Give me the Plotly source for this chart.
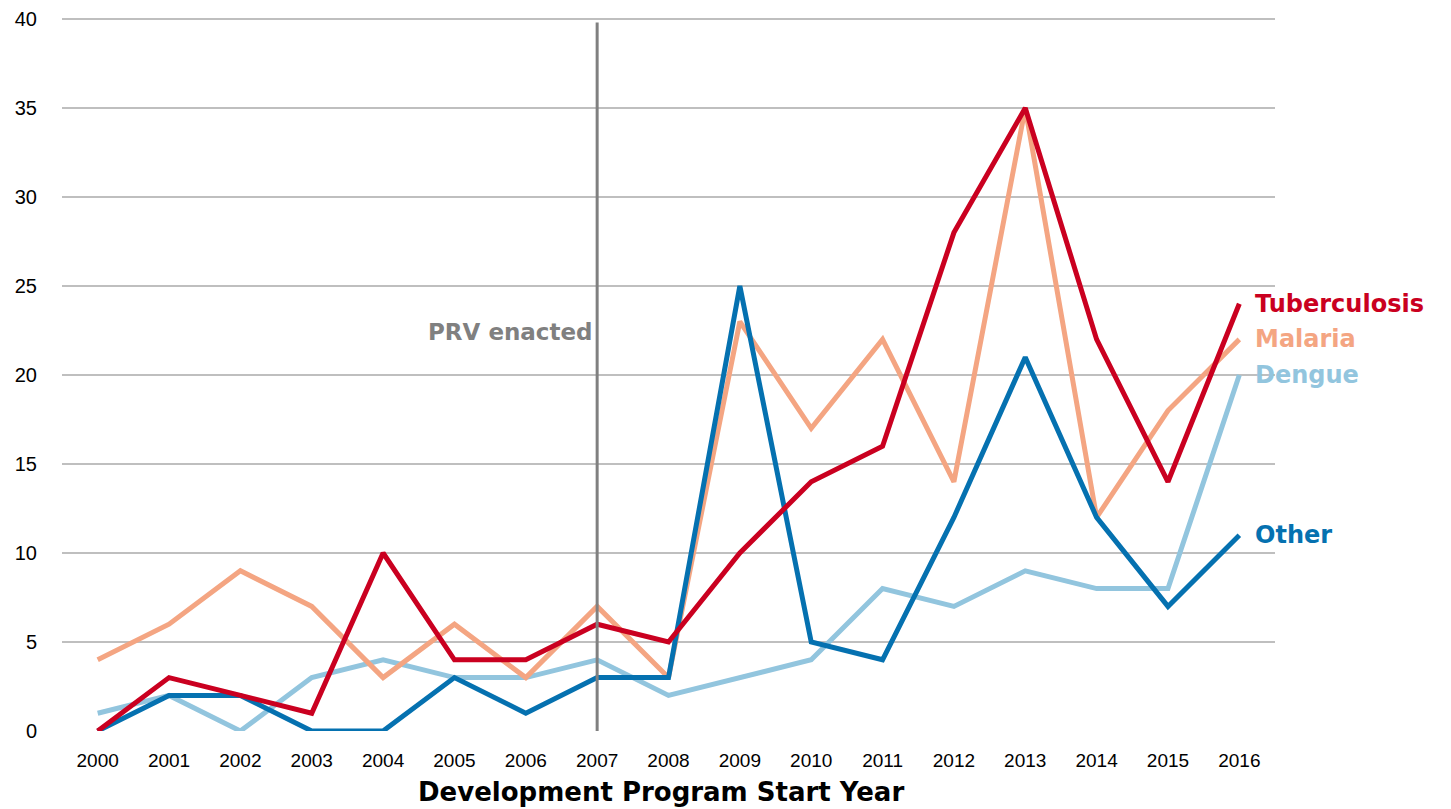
import plotly.graph_objects as go

years = list(range(2000, 2017))
tuberculosis = [0, 3, 2, 1, 10, 4, 4, 6, 5, 10, 14, 16, 28, 35, 22, 14, 24]
malaria = [4, 6, 9, 7, 3, 6, 3, 7, 3, 23, 17, 22, 14, 35, 12, 18, 22]
dengue = [1, 2, 0, 3, 4, 3, 3, 4, 2, 3, 4, 8, 7, 9, 8, 8, 20]
other = [0, 2, 2, 0, 0, 3, 1, 3, 3, 25, 5, 4, 12, 21, 12, 7, 11]

series = [
    ("Dengue", dengue, "#92C5DE"),
    ("Malaria", malaria, "#F4A582"),
    ("Other", other, "#0571B0"),
    ("Tuberculosis", tuberculosis, "#CA0020"),
]
label_y = {"Tuberculosis": 24, "Malaria": 22, "Dengue": 20, "Other": 11}

fig = go.Figure()
for name, vals, color in series:
    fig.add_trace(go.Scatter(x=years, y=vals, mode="lines", name=name,
                             line=dict(color=color, width=5)))

for name, vals, color in series:
    fig.add_annotation(x=2016, y=label_y[name], xref="x", yref="y", text=f"<b>{name}</b>",
                       showarrow=False, xanchor="left", yanchor="middle", xshift=14,
                       font=dict(family="DejaVu Sans", size=24, color=color))

fig.add_shape(type="line", x0=2007, x1=2007, y0=0, y1=39.8, xref="x", yref="y",
              line=dict(color="#808080", width=3), layer="above")
fig.add_annotation(x=2007, y=22.4, xref="x", yref="y", text="<b>PRV enacted</b>",
                   showarrow=False, xanchor="right", yanchor="middle", xshift=-2,
                   font=dict(family="DejaVu Sans", size=23, color="#808080"))

fig.add_annotation(x=0.5, y=0, xref="paper", yref="paper", text="<b>Development Program Start Year</b>",
                   showarrow=False, xanchor="center", yanchor="middle", yshift=-61, xshift=-8,
                   font=dict(family="DejaVu Sans", size=26, color="#000000"))

fig.update_layout(
    width=1451, height=809,
    margin=dict(l=62, r=176, t=14, b=78),
    plot_bgcolor="white", paper_bgcolor="white",
    showlegend=False,
    xaxis=dict(range=[1999.5, 2016.5], tickmode="array", tickvals=years,
               ticktext=[str(y) for y in years], showgrid=False, zeroline=False,
               showline=False, ticks="", ticklabelstandoff=16, automargin=False,
               tickfont=dict(family="Liberation Sans", size=19, color="#000000")),
    yaxis=dict(range=[0, 40.28], tickvals=[0, 5, 10, 15, 20, 25, 30, 35, 40],
               showgrid=True, gridcolor="#BFBFBF", gridwidth=2, zeroline=False,
               showline=False, ticks="", ticklabelstandoff=24, automargin=False,
               tickfont=dict(family="Liberation Sans", size=20, color="#000000")),
)

fig.write_html("out.html", config={"displayModeBar": False},
               post_script="document.body.style.margin='0';")
